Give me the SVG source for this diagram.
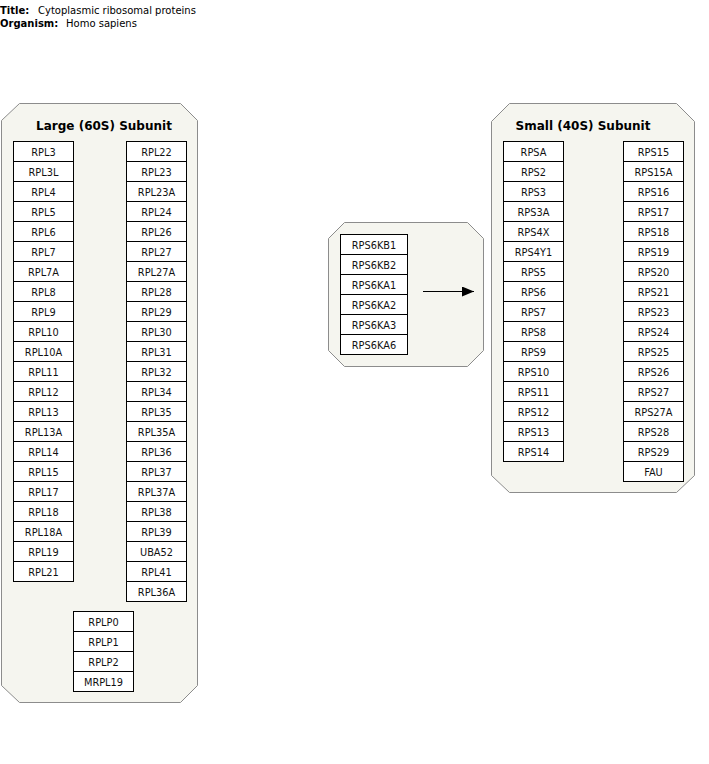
<svg xmlns="http://www.w3.org/2000/svg" width="709" height="764" viewBox="0 0 709 764">
  <style>
    .hdr { font-family: "DejaVu Sans", sans-serif; font-size: 10px; fill: #000; }
    .hdr-b { font-weight: bold; }
    .grp { fill: #f5f5ef; stroke: #8c8c8c; stroke-width: 1; }
    .grp-title { font-family: "DejaVu Sans", sans-serif; font-size: 12px; font-weight: bold; text-anchor: middle; fill: #000; }
    .gene rect { fill: #fff; stroke: #000; stroke-width: 1; }
    .gene text { font-family: "DejaVu Sans", sans-serif; font-size: 9.8px; text-anchor: middle; fill: #111; }
    .edge { stroke: #000; stroke-width: 1; fill: none; }
  </style>
  <defs>
    <marker id="arrow" viewBox="0 0 12 10" refX="12" refY="5" markerWidth="12" markerHeight="10" markerUnits="userSpaceOnUse" orient="auto">
      <path d="M0,0 L12,5 L0,10 Z" fill="#000"/>
    </marker>
  </defs>
  <rect width="709" height="764" fill="#fff"/>

  <!-- header -->
  <text class="hdr" y="14"><tspan class="hdr-b" x="0">Title:</tspan><tspan x="38">Cytoplasmic ribosomal proteins</tspan></text>
  <text class="hdr" y="27"><tspan class="hdr-b" x="0">Organism:</tspan><tspan x="66">Homo sapiens</tspan></text>

  <!-- Large (60S) subunit -->
  <g id="group-large">
    <polygon class="grp" points="19.5,103.5 180.5,103.5 197.5,120.5 197.5,685.5 180.5,702.5 19.5,702.5 1.5,685.5 1.5,120.5"/>
    <text class="grp-title" x="104" y="130">Large (60S) Subunit</text>
  </g>
  <g id="large-left" class="gene" transform="translate(13.5,141.5)">
    <g id="RPL3"><rect x="0" y="0" width="60" height="20"/><text x="30" y="14">RPL3</text></g>
    <g id="RPL3L"><rect x="0" y="20" width="60" height="20"/><text x="30" y="34">RPL3L</text></g>
    <g id="RPL4"><rect x="0" y="40" width="60" height="20"/><text x="30" y="54">RPL4</text></g>
    <g id="RPL5"><rect x="0" y="60" width="60" height="20"/><text x="30" y="74">RPL5</text></g>
    <g id="RPL6"><rect x="0" y="80" width="60" height="20"/><text x="30" y="94">RPL6</text></g>
    <g id="RPL7"><rect x="0" y="100" width="60" height="20"/><text x="30" y="114">RPL7</text></g>
    <g id="RPL7A"><rect x="0" y="120" width="60" height="20"/><text x="30" y="134">RPL7A</text></g>
    <g id="RPL8"><rect x="0" y="140" width="60" height="20"/><text x="30" y="154">RPL8</text></g>
    <g id="RPL9"><rect x="0" y="160" width="60" height="20"/><text x="30" y="174">RPL9</text></g>
    <g id="RPL10"><rect x="0" y="180" width="60" height="20"/><text x="30" y="194">RPL10</text></g>
    <g id="RPL10A"><rect x="0" y="200" width="60" height="20"/><text x="30" y="214">RPL10A</text></g>
    <g id="RPL11"><rect x="0" y="220" width="60" height="20"/><text x="30" y="234">RPL11</text></g>
    <g id="RPL12"><rect x="0" y="240" width="60" height="20"/><text x="30" y="254">RPL12</text></g>
    <g id="RPL13"><rect x="0" y="260" width="60" height="20"/><text x="30" y="274">RPL13</text></g>
    <g id="RPL13A"><rect x="0" y="280" width="60" height="20"/><text x="30" y="294">RPL13A</text></g>
    <g id="RPL14"><rect x="0" y="300" width="60" height="20"/><text x="30" y="314">RPL14</text></g>
    <g id="RPL15"><rect x="0" y="320" width="60" height="20"/><text x="30" y="334">RPL15</text></g>
    <g id="RPL17"><rect x="0" y="340" width="60" height="20"/><text x="30" y="354">RPL17</text></g>
    <g id="RPL18"><rect x="0" y="360" width="60" height="20"/><text x="30" y="374">RPL18</text></g>
    <g id="RPL18A"><rect x="0" y="380" width="60" height="20"/><text x="30" y="394">RPL18A</text></g>
    <g id="RPL19"><rect x="0" y="400" width="60" height="20"/><text x="30" y="414">RPL19</text></g>
    <g id="RPL21"><rect x="0" y="420" width="60" height="20"/><text x="30" y="434">RPL21</text></g>
  </g>
  <g id="large-right" class="gene" transform="translate(126.5,141.5)">
    <g id="RPL22"><rect x="0" y="0" width="60" height="20"/><text x="30" y="14">RPL22</text></g>
    <g id="RPL23"><rect x="0" y="20" width="60" height="20"/><text x="30" y="34">RPL23</text></g>
    <g id="RPL23A"><rect x="0" y="40" width="60" height="20"/><text x="30" y="54">RPL23A</text></g>
    <g id="RPL24"><rect x="0" y="60" width="60" height="20"/><text x="30" y="74">RPL24</text></g>
    <g id="RPL26"><rect x="0" y="80" width="60" height="20"/><text x="30" y="94">RPL26</text></g>
    <g id="RPL27"><rect x="0" y="100" width="60" height="20"/><text x="30" y="114">RPL27</text></g>
    <g id="RPL27A"><rect x="0" y="120" width="60" height="20"/><text x="30" y="134">RPL27A</text></g>
    <g id="RPL28"><rect x="0" y="140" width="60" height="20"/><text x="30" y="154">RPL28</text></g>
    <g id="RPL29"><rect x="0" y="160" width="60" height="20"/><text x="30" y="174">RPL29</text></g>
    <g id="RPL30"><rect x="0" y="180" width="60" height="20"/><text x="30" y="194">RPL30</text></g>
    <g id="RPL31"><rect x="0" y="200" width="60" height="20"/><text x="30" y="214">RPL31</text></g>
    <g id="RPL32"><rect x="0" y="220" width="60" height="20"/><text x="30" y="234">RPL32</text></g>
    <g id="RPL34"><rect x="0" y="240" width="60" height="20"/><text x="30" y="254">RPL34</text></g>
    <g id="RPL35"><rect x="0" y="260" width="60" height="20"/><text x="30" y="274">RPL35</text></g>
    <g id="RPL35A"><rect x="0" y="280" width="60" height="20"/><text x="30" y="294">RPL35A</text></g>
    <g id="RPL36"><rect x="0" y="300" width="60" height="20"/><text x="30" y="314">RPL36</text></g>
    <g id="RPL37"><rect x="0" y="320" width="60" height="20"/><text x="30" y="334">RPL37</text></g>
    <g id="RPL37A"><rect x="0" y="340" width="60" height="20"/><text x="30" y="354">RPL37A</text></g>
    <g id="RPL38"><rect x="0" y="360" width="60" height="20"/><text x="30" y="374">RPL38</text></g>
    <g id="RPL39"><rect x="0" y="380" width="60" height="20"/><text x="30" y="394">RPL39</text></g>
    <g id="UBA52"><rect x="0" y="400" width="60" height="20"/><text x="30" y="414">UBA52</text></g>
    <g id="RPL41"><rect x="0" y="420" width="60" height="20"/><text x="30" y="434">RPL41</text></g>
    <g id="RPL36A"><rect x="0" y="440" width="60" height="20"/><text x="30" y="454">RPL36A</text></g>
  </g>
  <g id="large-stalk" class="gene" transform="translate(73.5,611.5)">
    <g id="RPLP0"><rect x="0" y="0" width="60" height="20"/><text x="30" y="14">RPLP0</text></g>
    <g id="RPLP1"><rect x="0" y="20" width="60" height="20"/><text x="30" y="34">RPLP1</text></g>
    <g id="RPLP2"><rect x="0" y="40" width="60" height="20"/><text x="30" y="54">RPLP2</text></g>
    <g id="MRPL19"><rect x="0" y="60" width="60" height="20"/><text x="30" y="74">MRPL19</text></g>
  </g>

  <!-- S6 kinases -->
  <g id="group-kinases">
    <polygon class="grp" points="344.5,222.5 467.5,222.5 483.5,238.5 483.5,350.5 467.5,366.5 344.5,366.5 328.5,350.5 328.5,238.5"/>
  </g>
  <g id="kinases" class="gene" transform="translate(340.5,234.5)">
    <g id="RPS6KB1"><rect x="0" y="0" width="67" height="20"/><text x="33.5" y="14">RPS6KB1</text></g>
    <g id="RPS6KB2"><rect x="0" y="20" width="67" height="20"/><text x="33.5" y="34">RPS6KB2</text></g>
    <g id="RPS6KA1"><rect x="0" y="40" width="67" height="20"/><text x="33.5" y="54">RPS6KA1</text></g>
    <g id="RPS6KA2"><rect x="0" y="60" width="67" height="20"/><text x="33.5" y="74">RPS6KA2</text></g>
    <g id="RPS6KA3"><rect x="0" y="80" width="67" height="20"/><text x="33.5" y="94">RPS6KA3</text></g>
    <g id="RPS6KA6"><rect x="0" y="100" width="67" height="20"/><text x="33.5" y="114">RPS6KA6</text></g>
  </g>

  <!-- Small (40S) subunit -->
  <g id="group-small">
    <polygon class="grp" points="509.5,103.5 676.5,103.5 694.5,121.5 694.5,475.5 676.5,492.5 509.5,492.5 491.5,475.5 491.5,121.5"/>
    <text class="grp-title" x="583" y="130">Small (40S) Subunit</text>
  </g>
  <g id="small-left" class="gene" transform="translate(503.5,141.5)">
    <g id="RPSA"><rect x="0" y="0" width="60" height="20"/><text x="30" y="14">RPSA</text></g>
    <g id="RPS2"><rect x="0" y="20" width="60" height="20"/><text x="30" y="34">RPS2</text></g>
    <g id="RPS3"><rect x="0" y="40" width="60" height="20"/><text x="30" y="54">RPS3</text></g>
    <g id="RPS3A"><rect x="0" y="60" width="60" height="20"/><text x="30" y="74">RPS3A</text></g>
    <g id="RPS4X"><rect x="0" y="80" width="60" height="20"/><text x="30" y="94">RPS4X</text></g>
    <g id="RPS4Y1"><rect x="0" y="100" width="60" height="20"/><text x="30" y="114">RPS4Y1</text></g>
    <g id="RPS5"><rect x="0" y="120" width="60" height="20"/><text x="30" y="134">RPS5</text></g>
    <g id="RPS6"><rect x="0" y="140" width="60" height="20"/><text x="30" y="154">RPS6</text></g>
    <g id="RPS7"><rect x="0" y="160" width="60" height="20"/><text x="30" y="174">RPS7</text></g>
    <g id="RPS8"><rect x="0" y="180" width="60" height="20"/><text x="30" y="194">RPS8</text></g>
    <g id="RPS9"><rect x="0" y="200" width="60" height="20"/><text x="30" y="214">RPS9</text></g>
    <g id="RPS10"><rect x="0" y="220" width="60" height="20"/><text x="30" y="234">RPS10</text></g>
    <g id="RPS11"><rect x="0" y="240" width="60" height="20"/><text x="30" y="254">RPS11</text></g>
    <g id="RPS12"><rect x="0" y="260" width="60" height="20"/><text x="30" y="274">RPS12</text></g>
    <g id="RPS13"><rect x="0" y="280" width="60" height="20"/><text x="30" y="294">RPS13</text></g>
    <g id="RPS14"><rect x="0" y="300" width="60" height="20"/><text x="30" y="314">RPS14</text></g>
  </g>
  <g id="small-right" class="gene" transform="translate(623.5,141.5)">
    <g id="RPS15"><rect x="0" y="0" width="60" height="20"/><text x="30" y="14">RPS15</text></g>
    <g id="RPS15A"><rect x="0" y="20" width="60" height="20"/><text x="30" y="34">RPS15A</text></g>
    <g id="RPS16"><rect x="0" y="40" width="60" height="20"/><text x="30" y="54">RPS16</text></g>
    <g id="RPS17"><rect x="0" y="60" width="60" height="20"/><text x="30" y="74">RPS17</text></g>
    <g id="RPS18"><rect x="0" y="80" width="60" height="20"/><text x="30" y="94">RPS18</text></g>
    <g id="RPS19"><rect x="0" y="100" width="60" height="20"/><text x="30" y="114">RPS19</text></g>
    <g id="RPS20"><rect x="0" y="120" width="60" height="20"/><text x="30" y="134">RPS20</text></g>
    <g id="RPS21"><rect x="0" y="140" width="60" height="20"/><text x="30" y="154">RPS21</text></g>
    <g id="RPS23"><rect x="0" y="160" width="60" height="20"/><text x="30" y="174">RPS23</text></g>
    <g id="RPS24"><rect x="0" y="180" width="60" height="20"/><text x="30" y="194">RPS24</text></g>
    <g id="RPS25"><rect x="0" y="200" width="60" height="20"/><text x="30" y="214">RPS25</text></g>
    <g id="RPS26"><rect x="0" y="220" width="60" height="20"/><text x="30" y="234">RPS26</text></g>
    <g id="RPS27"><rect x="0" y="240" width="60" height="20"/><text x="30" y="254">RPS27</text></g>
    <g id="RPS27A"><rect x="0" y="260" width="60" height="20"/><text x="30" y="274">RPS27A</text></g>
    <g id="RPS28"><rect x="0" y="280" width="60" height="20"/><text x="30" y="294">RPS28</text></g>
    <g id="RPS29"><rect x="0" y="300" width="60" height="20"/><text x="30" y="314">RPS29</text></g>
    <g id="FAU"><rect x="0" y="320" width="60" height="20"/><text x="30" y="334">FAU</text></g>
  </g>

  <!-- connectors -->
  <g id="connectors">
    <line class="edge" x1="423" y1="291.5" x2="474" y2="291.5" marker-end="url(#arrow)"/>
  </g>
</svg>
